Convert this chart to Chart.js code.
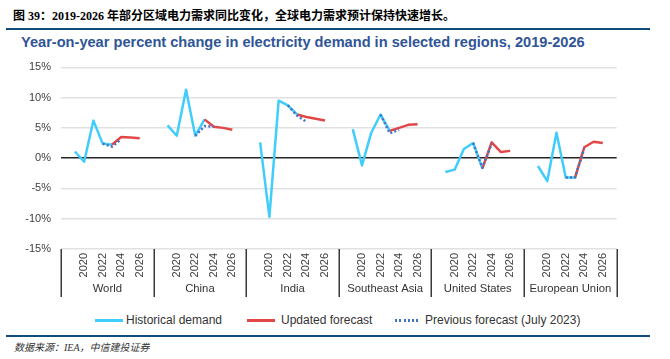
<!DOCTYPE html>
<html lang="zh-CN">
<head>
<meta charset="UTF-8">
<title>Electricity demand, year-on-year change</title>
<script src="https://cdn.jsdelivr.net/npm/chart.js@4.4.0/dist/chart.umd.min.js"></script>
<style>
  body { margin: 0; width: 670px; height: 359px; background: #fff; position: relative; overflow: hidden;
         font-family: "Liberation Sans", Arial, sans-serif; }
  .abs { position: absolute; white-space: nowrap; }
  #fig { left: 13px; top: 10px; font: bold 12px/13px "Liberation Serif", "Noto Sans CJK SC", serif; color: #000; }
  .rule { position: absolute; left: 6px; width: 644px; height: 2px; background: #0e4d7a; }
  #title { left: 21px; top: 34px; font: bold 14.6px/16px "Liberation Sans", Arial, sans-serif; color: #2f5597; }
  #chartBox { position: absolute; left: 0; top: 50px; width: 670px; height: 255px; }
  .leg { top: 313px; font: 12px/14px "Liberation Sans", Arial, sans-serif; color: #333; }
  .sw { position: absolute; top: 6px; width: 28px; height: 3px; }
  #src { left: 14px; top: 342px; font: italic 10px/12px "Liberation Serif", "Noto Sans CJK SC", serif; color: #333; }
</style>
</head>
<body>
<div id="fig" class="abs">图 39：2019-2026 年部分区域电力需求同比变化，全球电力需求预计保持快速增长。</div>
<div class="rule" style="top:28px"></div>
<div id="title" class="abs">Year-on-year percent change in electricity demand in selected regions, 2019-2026</div>

<div id="chartBox"><canvas id="myChart" width="670" height="255"></canvas></div>

<div class="abs leg" style="left:95px"><span class="sw" style="left:0;background:#41cdfc"></span><span style="margin-left:31px">Historical demand</span></div>
<div class="abs leg" style="left:247px"><span class="sw" style="left:0;background:#e24848"></span><span style="margin-left:34px">Updated forecast</span></div>
<div class="abs leg" style="left:395px"><span class="sw" style="left:0;width:26px;height:2.5px;background:repeating-linear-gradient(90deg,#4472c4 0 2px,transparent 2px 4.3px)"></span><span style="margin-left:30px">Previous forecast (July 2023)</span></div>

<div class="rule" style="top:335px"></div>
<div id="src" class="abs">数据来源：IEA，中信建投证券</div>

<script>
    // regions and years on the x axis
    const regions = ['World', 'China', 'India', 'Southeast Asia', 'United States', 'European Union'];
    const years = ['2019', '2020', '2021', '2022', '2023', '2024', '2025', '2026'];
    const shownYears = ['2020', '2022', '2024', '2026'];
    const yTicks = [-15, -10, -5, 0, 5, 10, 15];

    // historical demand, 2019-2023 (one row per region)
    const historical = [
        [1.1, -0.6, 6.2, 2.4, 2.2],
        [5.4, 3.7, 11.3, 3.7, 6.4],
        [2.6, -9.7, 9.5, 8.7, 7.2],
        [4.8, -1.2, 4.2, 7.2, 4.5],
        [-2.3, -1.9, 1.5, 2.5, -1.7],
        [-1.3, -3.8, 4.2, -3.2, -3.2]
    ];
    // updated forecast, 2023-2026
    const updated = [
        [2.2, 3.5, 3.4, 3.3],
        [6.4, 5.2, 5.0, 4.7],
        [7.2, 6.8, 6.5, 6.2],
        [4.5, 5.0, 5.5, 5.6],
        [-1.7, 2.6, 1.0, 1.2],
        [-3.2, 1.8, 2.7, 2.5]
    ];
    // previous forecast (July 2023), 2022-2024
    const previous = [
        [2.4, 1.9, 3.1],
        [3.7, 5.3, 5.2],
        [8.7, 7.0, 6.0],
        [7.2, 4.1, 4.7],
        [2.5, -1.6, 2.4],
        [-3.2, -3.2, 1.6]
    ];

    // each region gets an empty slot before and after its years
    const labels = [];
    regions.forEach(() => { labels.push(''); years.forEach(y => labels.push(y)); labels.push(''); });

    function series(rows, firstYear) {
        const start = years.indexOf(firstYear);
        const out = [];
        rows.forEach(row => {
            out.push(null);
            years.forEach((y, i) => {
                const k = i - start;
                out.push(k >= 0 && k < row.length ? row[k] : null);
            });
            out.push(null);
        });
        return out;
    }

    // region names and separators under the year ticks
    const groupPlugin = {
        id: 'groups',
        afterDraw(chart) {
            const { ctx, chartArea } = chart;
            const x = chart.scales.x;
            const gw = (x.right - x.left) / regions.length;
            const y0 = chartArea.bottom;
            ctx.save();
            ctx.strokeStyle = '#3a3a3a';
            ctx.lineWidth = 1.5;
            for (let g = 0; g <= regions.length; g++) {
                const px = Math.round(x.left + g * gw) + 0.25;
                ctx.beginPath();
                ctx.moveTo(px, y0);
                ctx.lineTo(px, y0 + 48);
                ctx.stroke();
            }
            ctx.fillStyle = '#333';
            ctx.font = '11.3px "Liberation Sans", Arial, sans-serif';
            ctx.textAlign = 'center';
            ctx.textBaseline = 'middle';
            regions.forEach((r, g) => ctx.fillText(r, x.left + (g + 0.5) * gw, y0 + 40));
            ctx.restore();
        }
    };

    const ctx = document.getElementById('myChart');
    new Chart(ctx, {
        type: 'line',
        data: {
            labels: labels,
            datasets: [{
                label: 'Previous forecast (July 2023)',
                data: series(previous, '2022'),
                borderColor: '#4472c4',
                borderWidth: 2.5,
                borderDash: [2, 2.3],
                order: 1
            }, {
                label: 'Updated forecast',
                data: series(updated, '2023'),
                borderColor: '#e24848',
                borderWidth: 2.5,
                order: 2
            }, {
                label: 'Historical demand',
                data: series(historical, '2019'),
                borderColor: '#41cdfc',
                borderWidth: 2.5,
                order: 3
            }]
        },
        options: {
            responsive: false,
            animation: false,
            devicePixelRatio: 1,
            spanGaps: false,
            elements: { point: { radius: 0 }, line: { tension: 0, borderJoinStyle: 'round' } },
            layout: { padding: { top: 17.3, right: 53.3, left: 0, bottom: 0 } },
            plugins: { legend: { display: false }, tooltip: { enabled: false } },
            scales: {
                x: {
                    offset: true,
                    grid: { display: false, drawTicks: false },
                    border: { display: false },
                    ticks: {
                        autoSkip: false, minRotation: 90, maxRotation: 90, padding: 4,
                        color: '#404040', font: { size: 11, family: '"Liberation Sans", Arial, sans-serif' },
                        callback: (v, i) => shownYears.includes(labels[i]) ? labels[i] : ''
                    },
                    afterFit: s => { s.height = 56; }
                },
                y: {
                    min: -15, max: 15,
                    afterBuildTicks: s => { s.ticks = yTicks.map(v => ({ value: v })); },
                    grid: {
                        drawTicks: false, lineWidth: 1.5,
                        color: c => c.tick.value === 0 ? '#262626' : '#e1e1e1'
                    },
                    border: { display: false },
                    ticks: {
                        padding: 10, color: '#404040',
                        font: { size: 11, family: '"Liberation Sans", Arial, sans-serif' },
                        callback: v => v + '%'
                    },
                    afterFit: s => { s.width = 61; }
                }
            }
        },
        plugins: [groupPlugin]
    });
</script>
</body>
</html>
